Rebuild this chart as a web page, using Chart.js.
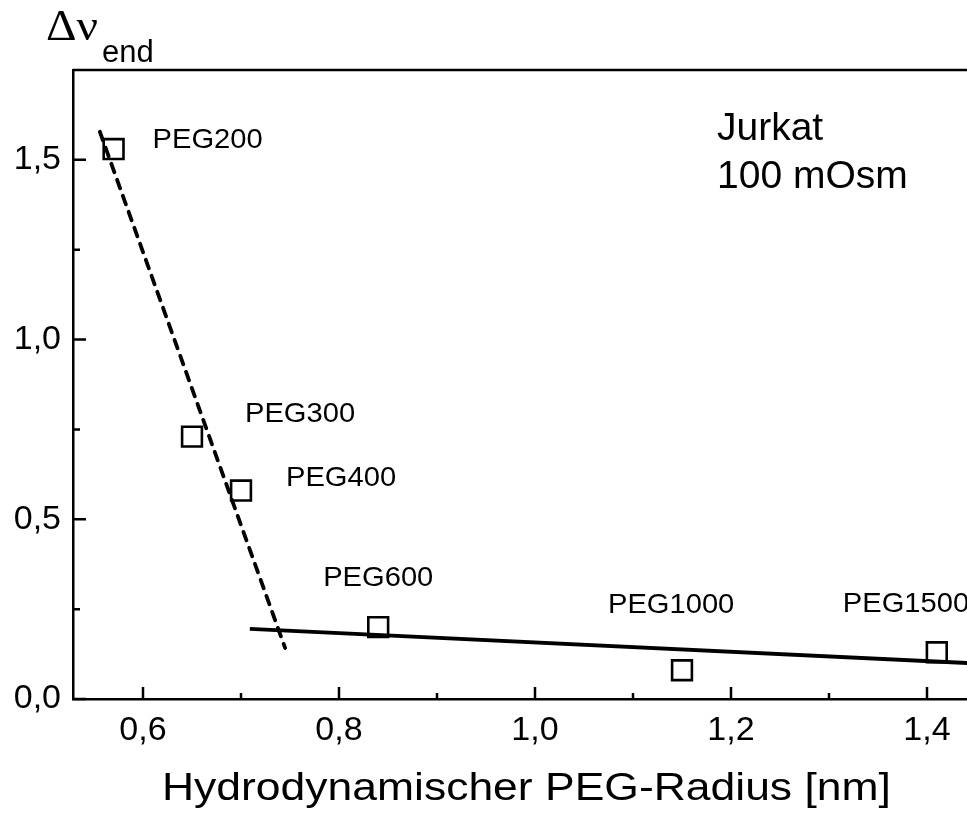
<!DOCTYPE html>
<html>
<head>
<meta charset="utf-8">
<script src="https://cdn.jsdelivr.net/npm/chart.js@4.4.1/dist/chart.umd.min.js"></script>
<style>
  html, body { margin: 0; padding: 0; background: #fff; overflow: hidden; }
  #wrap { width: 967px; height: 814px; }
  canvas { display: block; }
</style>
</head>
<body>
<div id="wrap"><canvas id="myChart" width="967" height="814"></canvas></div>
<script>
// measured points: hydrodynamic radius [nm] vs. delta nu end
const pegNames = ['PEG200', 'PEG300', 'PEG400', 'PEG600', 'PEG1000', 'PEG1500'];
const radius = [0.57, 0.65, 0.70, 0.84, 1.15, 1.41];
const deltaNu = [1.53, 0.73, 0.58, 0.20, 0.08, 0.13];

// the two fitted lines (end points)
const steepFitX = [0.556, 0.745];
const steepFitY = [1.578, 0.142];
const flatFitX = [0.709, 1.45];
const flatFitY = [0.195, 0.099];

// axis ticks
const xMajor = [0.6, 0.8, 1.0, 1.2, 1.4];
const xMinor = [0.7, 0.9, 1.1, 1.3];
const yMajor = [0.0, 0.5, 1.0, 1.5];
const yMinor = [0.25, 0.75, 1.25];

// label placement relative to each square (px)
const labelOffsets = [[39, -1], [53, -15], [45, -5], [-55, -41], [-74, -57], [-94, -40]];

const toPoints = (xs, ys) => xs.map((x, i) => ({ x: x, y: ys[i] }));
const comma = v => v.toFixed(1).replace('.', ',');

function stretchedText(ctx, text, x, y, font, sx) {
  ctx.save();
  ctx.font = font;
  ctx.translate(x, y);
  ctx.scale(sx, 1);
  ctx.fillText(text, 0, 0);
  ctx.restore();
}

const decorations = {
  id: 'decorations',
  afterDraw(chart) {
    const ctx = chart.ctx;
    const xs = chart.scales.x, ys = chart.scales.y;
    const area = chart.chartArea;
    ctx.save();
    ctx.strokeStyle = '#000';
    ctx.lineWidth = 2.5;
    ctx.lineCap = 'butt';

    // top frame line
    ctx.beginPath();
    ctx.moveTo(area.left, area.top);
    ctx.lineTo(area.right, area.top);
    ctx.stroke();

    // inward tick marks
    ctx.beginPath();
    xMajor.forEach(v => { const p = xs.getPixelForValue(v); ctx.moveTo(p, area.bottom); ctx.lineTo(p, area.bottom - 12); });
    xMinor.forEach(v => { const p = xs.getPixelForValue(v); ctx.moveTo(p, area.bottom); ctx.lineTo(p, area.bottom - 6); });
    yMajor.forEach(v => { const p = ys.getPixelForValue(v); ctx.moveTo(area.left, p); ctx.lineTo(area.left + 13, p); });
    yMinor.forEach(v => { const p = ys.getPixelForValue(v); ctx.moveTo(area.left, p); ctx.lineTo(area.left + 7, p); });
    ctx.stroke();

    ctx.fillStyle = '#000';
    ctx.textBaseline = 'alphabetic';
    ctx.textAlign = 'left';

    // point labels
    pegNames.forEach((name, i) => {
      const px = xs.getPixelForValue(radius[i]) + labelOffsets[i][0];
      const py = ys.getPixelForValue(deltaNu[i]) + labelOffsets[i][1];
      stretchedText(ctx, name, px, py, '28px "Liberation Sans", Arial, sans-serif', 1.04);
    });

    // sample description
    ctx.font = '39px "Liberation Sans", Arial, sans-serif';
    ctx.fillText('Jurkat', 717, 140);
    ctx.fillText('100 mOsm', 717, 188);

    // axis titles
    stretchedText(ctx, 'Hydrodynamischer PEG-Radius [nm]', 162, 800, '38px "Liberation Sans", Arial, sans-serif', 1.17);
    stretchedText(ctx, '\u0394\u03BD', 46, 40, '44px "Liberation Serif", "Times New Roman", serif', 1.08);
    ctx.font = '31px "Liberation Sans", Arial, sans-serif';
    ctx.fillText('end', 102, 62);
    ctx.restore();
  }
};

const data = {
  datasets: [
    {
      type: 'scatter',
      data: toPoints(radius, deltaNu),
      pointStyle: 'rect',
      pointRadius: 14,
      pointHoverRadius: 14,
      pointBorderWidth: 2.6,
      borderColor: '#000',
      backgroundColor: 'rgba(0,0,0,0)',
      order: 0
    },
    {
      type: 'line',
      data: toPoints(steepFitX, steepFitY),
      borderColor: '#000',
      borderWidth: 3.8,
      borderDash: [9, 8],
      borderCapStyle: 'round',
      pointRadius: 0,
      order: 1
    },
    {
      type: 'line',
      data: toPoints(flatFitX, flatFitY),
      borderColor: '#000',
      borderWidth: 3.8,
      pointRadius: 0,
      order: 1
    }
  ]
};

const config = {
  type: 'scatter',
  data: data,
  options: {
    responsive: false,
    animation: false,
    events: [],
    layout: { autoPadding: false, padding: { top: 70, left: 0, right: 0, bottom: 0 } },
    plugins: {
      legend: { display: false },
      tooltip: { enabled: false }
    },
    scales: {
      x: {
        type: 'linear',
        min: 0.52857,
        max: 1.44082,
        afterBuildTicks: s => { s.ticks = xMajor.map(v => ({ value: v })); },
        afterFit: s => { s.height = 115; s.paddingLeft = 0; s.paddingRight = 0; },
        grid: { display: false, drawTicks: false },
        border: { display: true, color: '#000', width: 2.5 },
        ticks: {
          color: '#000',
          padding: 11,
          font: { family: '"Liberation Sans", Arial, sans-serif', size: 34 },
          callback: v => comma(v)
        }
      },
      y: {
        type: 'linear',
        min: 0,
        max: 1.75,
        afterBuildTicks: s => { s.ticks = yMajor.map(v => ({ value: v })); },
        afterFit: s => { s.width = 73; s.paddingTop = 0; s.paddingBottom = 0; },
        grid: { display: false, drawTicks: false },
        border: { display: true, color: '#000', width: 2.5 },
        ticks: {
          color: '#000',
          padding: 12,
          font: { family: '"Liberation Sans", Arial, sans-serif', size: 34 },
          callback: v => comma(v)
        }
      }
    }
  },
  plugins: [decorations]
};

var ctx = document.getElementById('myChart').getContext('2d');
var myChart = new Chart(ctx, config);
</script>
</body>
</html>
